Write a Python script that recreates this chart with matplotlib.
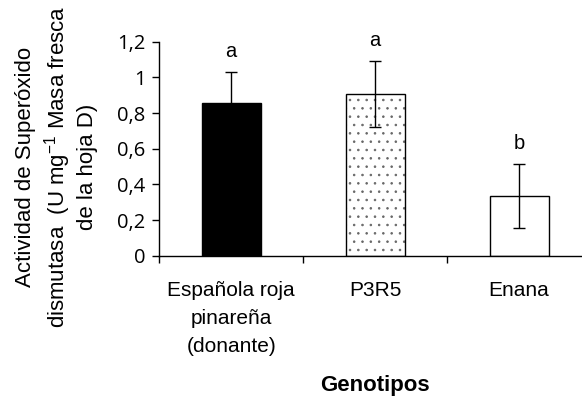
import numpy as np
import matplotlib
matplotlib.use("Agg")
import matplotlib.pyplot as plt

plt.rcParams['mathtext.fontset'] = 'custom'
plt.rcParams['mathtext.rm'] = 'Liberation Sans'
plt.rcParams['mathtext.it'] = 'Liberation Sans'
plt.rcParams['hatch.linewidth'] = 0.6

# datos
genotipos = ['Española roja\npinareña\n(donante)', 'P3R5', 'Enana']
actividad = [0.855, 0.905, 0.335]
error = [0.175, 0.185, 0.18]
letras = ['a', 'a', 'b']
yticks = [0, 0.2, 0.4, 0.6, 0.8, 1.0, 1.2]
yticklabels = ['0', '0,2', '0,4', '0,6', '0,8', '1', '1,2']

fig = plt.figure(figsize=(5.82, 4.01), dpi=100)
ax = fig.add_axes([159.3 / 582, 1 - 255.7 / 401, (591 - 159.3) / 582, (255.7 - 41.7) / 401])

x = np.arange(len(genotipos))
ancho = 0.41

# barra 1 negra, barra 2 punteada, barra 3 blanca
ax.bar(x[0], actividad[0], ancho, color='black', edgecolor='black', linewidth=1.0, zorder=2)
ax.bar(x[1], actividad[1], ancho, color='white', edgecolor='#666666', hatch='..', linewidth=0, zorder=2)
ax.bar(x[1], actividad[1], ancho, color='none', edgecolor='black', linewidth=1.0, zorder=3)
ax.bar(x[2], actividad[2], ancho, color='white', edgecolor='black', linewidth=1.0, zorder=2)

ax.errorbar(x, actividad, yerr=error, fmt='none', ecolor='black', elinewidth=1.0,
            capsize=4.3, capthick=1.0, zorder=4)

for xi, v, e, l in zip(x, actividad, error, letras):
    ax.annotate(l, (xi, v + e), xytext=(0, 8), textcoords='offset points',
                ha='center', va='bottom', fontsize=14.5, family='Liberation Sans')

ax.set_xlim(-0.5, 2.5)
ax.set_ylim(0, 1.2)
ax.set_yticks(yticks)
ax.set_yticklabels(yticklabels, family='Open Sans', fontsize=14.5)
ax.tick_params(axis='y', direction='out', length=5, width=1.0, pad=5)

ax.set_xticks([-0.5, 0.5, 1.5, 2.5])
ax.set_xticklabels([])
ax.set_xticks(x, minor=True)
ax.set_xticklabels(genotipos, minor=True, family='Liberation Sans', fontsize=15,
                   linespacing=1.6)
ax.tick_params(axis='x', which='major', direction='out', length=5, width=1.0)
ax.tick_params(axis='x', which='minor', length=0, pad=18)

for s in ['top', 'right']:
    ax.spines[s].set_visible(False)
for s in ['left', 'bottom']:
    ax.spines[s].set_linewidth(1.0)
    ax.spines[s].set_color('black')

fig.text(56.5 / 582, 1 - 167 / 401,
         'Actividad de Superóxido\ndismutasa  (U mg$^{-1}$ Masa fresca\nde la hoja D)',
         rotation=90, ha='center', va='center', multialignment='center',
         family='Liberation Sans', fontsize=16, linespacing=1.25)

fig.text(375 / 582, 1 - 385 / 401, 'Genotipos', ha='center', va='center',
         family='Liberation Sans', fontsize=16, fontweight='bold')

fig.savefig('out.png', dpi=100)
